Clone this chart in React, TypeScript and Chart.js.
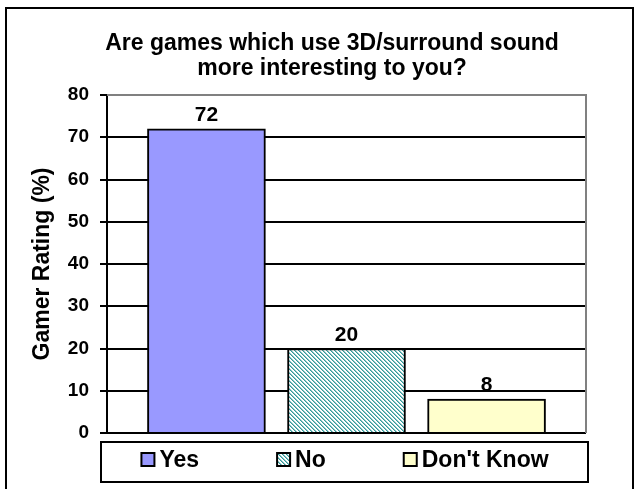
import React, { useEffect, useRef } from 'react';
import { Chart, registerables } from 'chart.js';

Chart.register(...registerables);

const categories = ['Yes', 'No', "Don't Know"];
const ratings = [72, 20, 8];
const yTicks = [0, 10, 20, 30, 40, 50, 60, 70, 80];
const titleLines = ['Are games which use 3D/surround sound', 'more interesting to you?'];
const yTitle = 'Gamer Rating (%)';

const FONT = '"Liberation Sans", Arial, Helvetica, sans-serif';
const X_MIN = -0.71;
const X_MAX = 2.71;

function makeHatch(): CanvasPattern | string {
  const c = document.createElement('canvas');
  c.width = 4;
  c.height = 4;
  const g = c.getContext('2d');
  if (!g) return '#66b3b3';
  g.fillStyle = '#ffffff';
  g.fillRect(0, 0, 4, 4);
  for (let i = 0; i < 4; i++) {
    g.fillStyle = '#339999';
    g.fillRect(i, i, 1, 1);
    g.fillStyle = '#8cc6c6';
    g.fillRect((i + 1) % 4, i, 1, 1);
  }
  return g.createPattern(c, 'repeat') || '#66b3b3';
}

const titleShiftPlugin = {
  id: 'titleShift',
  afterLayout(chart: any) {
    const t = chart.titleBlock;
    const a = chart.chartArea;
    if (t && a) {
      t.left = a.left - 67;
      t.right = a.right + 38;
    }
  },
};

const framePlugin = {
  id: 'plotFrame',
  beforeDatasetsDraw(chart: any) {
    const { ctx, chartArea: a } = chart;
    ctx.save();
    ctx.strokeStyle = '#808080';
    ctx.lineWidth = 2;
    ctx.beginPath();
    ctx.moveTo(a.left, a.top);
    ctx.lineTo(a.right, a.top);
    ctx.lineTo(a.right, a.bottom);
    ctx.stroke();
    ctx.restore();
  },
};

const valueLabelPlugin = {
  id: 'valueLabels',
  afterDatasetsDraw(chart: any) {
    const { ctx } = chart;
    const meta = chart.getDatasetMeta(0);
    ctx.save();
    ctx.fillStyle = '#000';
    ctx.font = `bold 21px ${FONT}`;
    ctx.textAlign = 'center';
    ctx.textBaseline = 'alphabetic';
    meta.data.forEach((bar: any, i: number) => {
      ctx.fillText(String(ratings[i]), bar.x, bar.y - 8);
    });
    ctx.restore();
  },
};

const legendPlugin = {
  id: 'boxLegend',
  afterDraw(chart: any) {
    const { ctx, chartArea: a } = chart;
    const ds = chart.data.datasets[0];
    const left = a.left - 6;
    const right = a.right + 2;
    const top = a.bottom + 9;
    const height = 40;
    ctx.save();
    ctx.fillStyle = '#fff';
    ctx.fillRect(left, top, right - left, height);
    ctx.strokeStyle = '#000';
    ctx.lineWidth = 2;
    ctx.strokeRect(left, top, right - left, height);

    ctx.font = `bold 23px ${FONT}`;
    const box = 13;
    const textGap = 4;
    const gap = 77;
    const widths = categories.map((c) => box + 2 + textGap + ctx.measureText(c).width);
    const total = widths.reduce((s, w) => s + w, 0) + gap * (categories.length - 1);
    let x = (left + right) / 2 - total / 2;
    const boxTop = top + 11;
    categories.forEach((c, i) => {
      ctx.fillStyle = ds.backgroundColor[i];
      ctx.fillRect(x + 1, boxTop, box, box);
      ctx.strokeStyle = '#000';
      ctx.lineWidth = 2;
      ctx.strokeRect(x + 1, boxTop, box, box);
      ctx.fillStyle = '#000';
      ctx.textAlign = 'left';
      ctx.textBaseline = 'alphabetic';
      ctx.fillText(c, x + box + 2 + textGap, top + 25);
      x += widths[i] + gap;
    });
    ctx.restore();
  },
};

export default function App() {
  const ref = useRef<HTMLCanvasElement | null>(null);

  useEffect(() => {
    document.body.style.margin = '0';
    const canvas = ref.current;
    if (!canvas) return;
    const hatch = makeHatch();
    const chart = new Chart(canvas, {
      type: 'bar',
      data: {
        datasets: [
          {
            label: 'Gamer Rating (%)',
            data: categories.map((c, i) => ({ x: i, y: ratings[i] })) as any,
            backgroundColor: ['#9999ff', hatch as any, '#ffffcc'],
            borderColor: '#000',
            borderWidth: 2,
            barThickness: 118,
          },
        ],
      },
      options: {
        responsive: false,
        animation: false,
        devicePixelRatio: 1,
        layout: { padding: { left: 20, right: 53, top: 0, bottom: 56 } },
        plugins: {
          legend: { display: false },
          tooltip: { enabled: false },
          title: {
            display: true,
            text: titleLines,
            color: '#000',
            font: { family: FONT, size: 23, weight: 'bold', lineHeight: 1.1 },
            padding: { top: 31, bottom: 13.4 },
          },
        },
        scales: {
          x: {
            type: 'linear',
            min: X_MIN,
            max: X_MAX,
            bounds: 'data',
            offset: false,
            display: false,
            afterBuildTicks: (s: any) => {
              s.min = X_MIN;
              s.max = X_MAX;
            },
          },
          y: {
            min: 0,
            max: 80,
            afterBuildTicks: (s: any) => {
              s.ticks = yTicks.map((v) => ({ value: v }));
            },
            ticks: {
              color: '#000',
              font: { family: FONT, size: 19, weight: 'bold' },
              padding: 11,
            },
            grid: {
              color: (c: any) => (c.tick && c.tick.value === 80 ? '#808080' : '#000'),
              lineWidth: 2,
              tickLength: 7,
              tickColor: '#000',
              tickWidth: 2,
              drawTicks: true,
            },
            border: { display: true, color: '#000', width: 2 },
            title: {
              display: true,
              text: yTitle,
              color: '#000',
              font: { family: FONT, size: 23, weight: 'bold' },
              padding: { top: 9, bottom: 0 },
            },
            afterFit: (s: any) => {
              s.width = 87;
            },
          },
        },
      } as any,
      plugins: [titleShiftPlugin, framePlugin, valueLabelPlugin, legendPlugin],
    });
    return () => chart.destroy();
  }, []);

  return (
    <div style={{ position: 'relative', width: 639, height: 489, overflow: 'hidden', background: '#fff' }}>
      <div
        style={{
          position: 'absolute',
          left: 5,
          top: 7,
          width: 629,
          height: 520,
          border: '2px solid #000',
          boxSizing: 'border-box',
          pointerEvents: 'none',
        }}
      />
      <canvas ref={ref} width={639} height={489} style={{ position: 'absolute', left: 0, top: 0 }} />
    </div>
  );
}
